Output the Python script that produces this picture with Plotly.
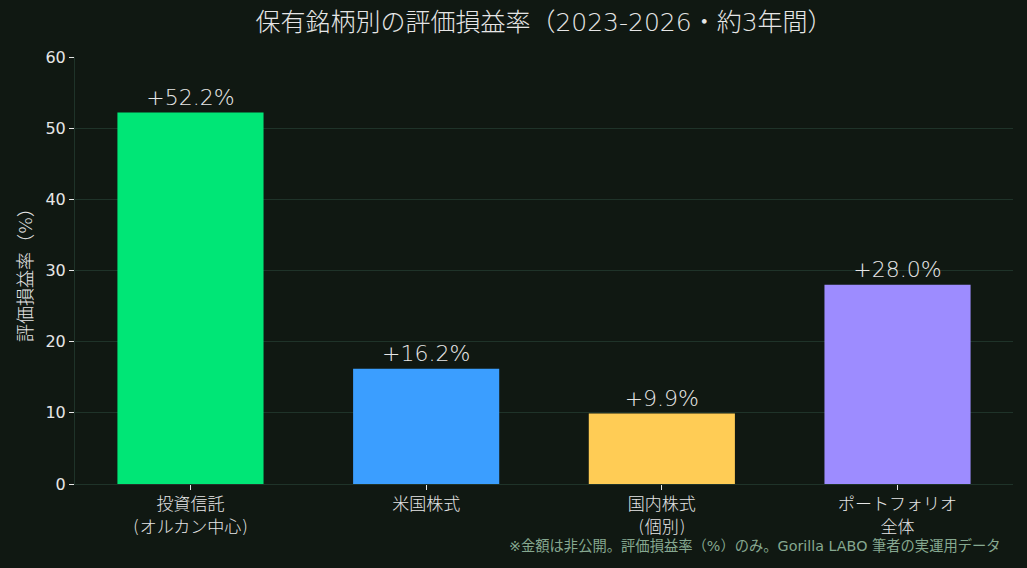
import plotly.graph_objects as go

categories = ["投資信託<br>(オルカン中心)", "米国株式", "国内株式<br>(個別)", "ポートフォリオ<br>全体"]
values = [52.2, 16.2, 9.9, 28.0]
labels = ["+52.2%", "+16.2%", "+9.9%", "+28.0%"]
colors = ["#00e676", "#3b9eff", "#ffcc55", "#9d8cff"]
yticks = [0, 10, 20, 30, 40, 50, 60]

FONT = "DejaVu Sans, Noto Sans CJK JP"
BG = "#101812"
TXT = "#e6e6e6"
GRID = "#1f3329"
W = 300

fig = go.Figure(go.Bar(
    x=list(range(len(categories))), y=values, marker=dict(color=colors, line=dict(width=0)),
    width=0.62, text=labels, textposition="outside",
    textfont=dict(size=22, color=TXT, family=FONT, weight=W), cliponaxis=False,
))
fig.update_layout(
    width=1027, height=568, paper_bgcolor=BG, plot_bgcolor=BG,
    margin=dict(l=75, r=14, t=57, b=84),
    font=dict(family=FONT, color=TXT, size=16, weight=W),
    title=dict(text="保有銘柄別の評価損益率（2023-2026・約3年間）", x=0.5, xref="paper", xanchor="center",
               y=0.96, yanchor="middle", font=dict(size=25, color=TXT, family=FONT, weight=W)),
    showlegend=False, bargap=0.38,
    xaxis=dict(tickmode="array", tickvals=list(range(len(categories))), ticktext=categories,
               range=[-0.49, 3.49], showgrid=False, showline=True, linecolor=GRID,
               ticks="outside", tickcolor=TXT, ticklen=5,
               tickfont=dict(size=17, color=TXT, family=FONT, weight=W), zeroline=False),
    yaxis=dict(range=[0, 60], tickvals=yticks, showgrid=True, gridcolor=GRID, gridwidth=1,
               showline=True, linecolor=GRID, ticks="outside", tickcolor=TXT, ticklen=5,
               tickfont=dict(size=16, color=TXT, family="DejaVu Sans", weight=400), zeroline=False,
               title=dict(text="評価損益率（%）", font=dict(size=18, color=TXT, family=FONT, weight=W), standoff=8)),
)
fig.add_annotation(text="※金額は非公開。評価損益率（%）のみ。Gorilla LABO 筆者の実運用データ",
                   xref="paper", yref="paper", x=1.0, y=-0.145, xanchor="right", yanchor="middle",
                   showarrow=False, font=dict(size=14.3, color="#86a890", family=FONT, weight=400), xshift=-10)
fig.write_html("out.html")
